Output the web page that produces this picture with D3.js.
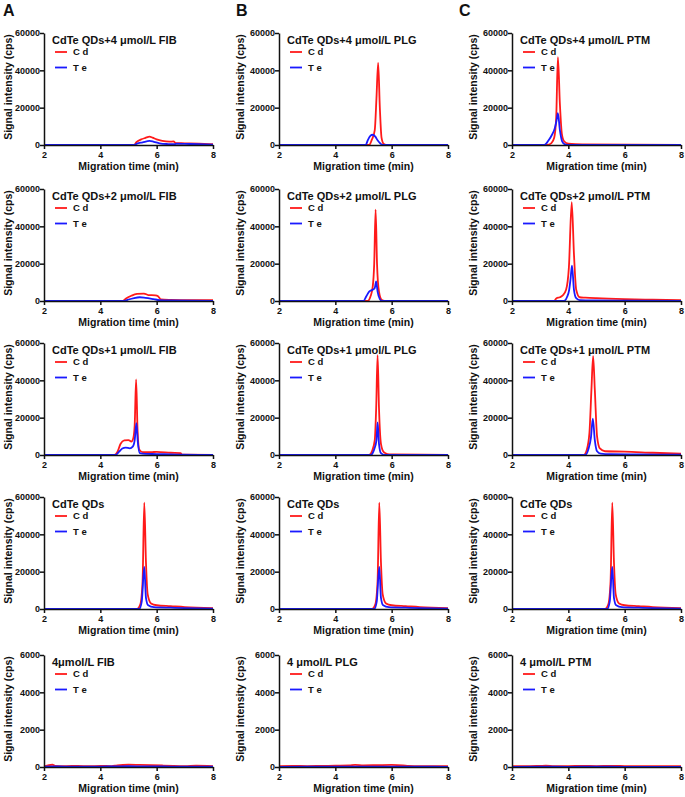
<!DOCTYPE html>
<html><head><meta charset="utf-8">
<script src="https://cdn.jsdelivr.net/npm/d3@7"></script>
<style>
body{margin:0;background:#fff;}
text{font-family:"Liberation Sans",Arial,sans-serif;font-weight:bold;fill:#111;}
</style></head>
<body><svg id="c" width="685" height="797"></svg>
<script>
// ---------- data ----------
const columnLetters = ["A", "B", "C"];
const panelTitles = [
  ["CdTe QDs+4 μmol/L FIB", "CdTe QDs+4 μmol/L PLG", "CdTe QDs+4 μmol/L PTM"],
  ["CdTe QDs+2 μmol/L FIB", "CdTe QDs+2 μmol/L PLG", "CdTe QDs+2 μmol/L PTM"],
  ["CdTe QDs+1 μmol/L FIB", "CdTe QDs+1 μmol/L PLG", "CdTe QDs+1 μmol/L PTM"],
  ["CdTe QDs", "CdTe QDs", "CdTe QDs"],
  ["4μmol/L FIB", "4 μmol/L PLG", "4 μmol/L PTM"]
];
const seriesNames = ["C d", "T e"];
const xTicks = [2, 4, 6, 8];
const yTicksMain = [0, 20000, 40000, 60000];
const yTicksBlank = [0, 2000, 4000, 6000];
const xLabel = "Migration time (min)";
const yLabel = "Signal intensity (cps)";

// [time (min), intensity (cps)]
const cdFIB4 = [[2,0],[5.2,0],[5.28,1500],[5.45,3000],[5.6,3800],[5.75,4500],[5.85,4000],[6.0,3000],[6.2,2200],[6.45,1800],[6.6,1900],[6.68,1000],[7.0,900],[7.5,700],[8,400]];
const teFIB4 = [[2,0],[5.2,0],[5.3,700],[5.5,1400],[5.75,2200],[5.9,1700],[6.1,900],[6.4,500],[6.65,400],[6.7,700],[7.0,600],[7.5,400],[8,200]];
const cdFIB2 = [[2,0],[4.8,0],[4.9,1200],[5.1,2800],[5.3,3800],[5.55,4000],[5.7,3200],[5.95,3000],[6.05,2500],[6.15,800],[6.5,600],[7.0,500],[8,400]];
const teFIB2 = [[2,0],[4.85,0],[5.0,800],[5.2,1600],[5.4,2000],[5.6,1700],[5.9,1000],[6.1,500],[6.5,300],[8,100]];
const cdFIB1 = [[2,0],[4.5,0],[4.6,1500],[4.72,6000],[4.85,7800],[5.0,8000],[5.1,7200],[5.17,9000],[5.22,16000],[5.27,40500],[5.32,14000],[5.38,3000],[5.5,1500],[5.8,1500],[6.0,1700],[6.5,1200],[6.85,1000],[6.9,200],[8,100]];
const teFIB1 = [[2,0],[4.55,0],[4.65,1500],[4.78,3500],[4.9,4000],[5.05,3600],[5.15,4500],[5.22,8000],[5.28,17000],[5.33,7000],[5.4,1000],[5.6,600],[6.0,500],[6.5,300],[8,0]];
const cdQDs = [[2,0],[5.3,0],[5.42,2500],[5.5,15000],[5.56,57000],[5.62,25000],[5.68,8000],[5.8,3000],[6.0,2000],[6.5,1500],[7.0,1000],[8,500]];
const teQDs = [[2,0],[5.38,0],[5.47,4000],[5.56,22500],[5.62,6000],[5.7,2000],[5.9,1000],[6.5,700],[7.0,500],[8,200]];
const cdFIBonly = [[2,40],[2.3,120],[2.4,60],[2.8,50],[3.2,60],[3.6,40],[4.0,60],[4.4,50],[4.6,90],[5.0,120],[5.4,110],[5.8,100],[6.2,80],[6.6,60],[7.0,50],[7.4,70],[8,50]];
const teFIBonly = [[2,20],[2.5,30],[3,20],[3.5,25],[4,20],[4.5,35],[5,40],[5.5,35],[6,30],[6.5,25],[7,20],[7.5,25],[8,20]];

const cdPLG4 = [[2,0],[5.2,0],[5.3,3000],[5.4,8000],[5.46,25000],[5.52,44000],[5.58,20000],[5.64,4000],[5.72,500],[5.8,0],[8,0]];
const tePLG4 = [[2,0],[5.08,0],[5.15,2500],[5.25,5000],[5.32,5500],[5.42,4500],[5.5,2500],[5.6,800],[5.68,0],[8,0]];
const cdPLG2 = [[2,0],[5.15,0],[5.25,2500],[5.33,8000],[5.38,20000],[5.43,49000],[5.48,20000],[5.55,5000],[5.65,500],[5.75,0],[8,0]];
const tePLG2 = [[2,0],[5.0,0],[5.1,2500],[5.2,5000],[5.32,6000],[5.4,7000],[5.45,10500],[5.5,5000],[5.58,1000],[5.65,0],[8,0]];
const cdPLG1 = [[2,0],[5.2,0],[5.3,2000],[5.4,8000],[5.45,25000],[5.5,53500],[5.55,25000],[5.62,6000],[5.72,1500],[5.85,500],[6.0,300],[8,100]];
const tePLG1 = [[2,0],[5.25,0],[5.38,3000],[5.46,8000],[5.5,17500],[5.55,6000],[5.62,1000],[5.75,0],[8,0]];
const cdPLGonly = [[2,50],[2.5,60],[3,50],[3.5,60],[4,70],[4.5,80],[4.7,110],[5,90],[5.5,100],[6,110],[6.4,90],[6.6,60],[7,50],[7.5,50],[8,40]];
const tePLGonly = [[2,10],[3,15],[4,20],[5,25],[6,20],[7,15],[8,10]];

const cdPTM4 = [[2,0],[3.25,0],[3.4,1000],[3.5,4000],[3.57,15000],[3.63,47000],[3.7,22000],[3.77,6000],[3.85,2000],[4.0,700],[4.5,300],[8,100]];
const tePTM4 = [[2,0],[3.15,0],[3.3,2500],[3.42,5500],[3.52,9000],[3.58,13000],[3.63,17000],[3.7,8000],[3.78,2000],[3.88,300],[4.0,0],[8,0]];
const cdPTM2 = [[2,0],[3.5,0],[3.58,1500],[3.7,2000],[3.8,3000],[3.92,6000],[4.02,18000],[4.12,53000],[4.2,25000],[4.28,6000],[4.4,2000],[4.6,1800],[5,1500],[6,1000],[7,700],[8,500]];
const tePTM2 = [[2,0],[3.85,0],[3.95,2000],[4.03,6000],[4.08,12000],[4.13,19000],[4.2,6000],[4.28,1500],[4.4,500],[5,300],[6,200],[8,100]];
const cdPTM1 = [[2,0],[4.55,0],[4.65,2500],[4.75,12000],[4.82,35000],[4.88,53000],[4.94,35000],[5.02,10000],[5.12,3500],[5.3,2000],[6,1800],[7,1200],[8,700]];
const tePTM1 = [[2,0],[4.6,0],[4.72,3500],[4.8,9000],[4.87,19500],[4.94,8000],[5.02,2000],[5.15,700],[5.5,400],[6.5,300],[8,200]];
const cdPTMonly = [[2,50],[2.5,40],[3,60],[3.2,70],[3.5,50],[4,50],[4.5,60],[5,50],[5.5,60],[6,50],[6.5,40],[7,50],[7.5,40],[8,40]];
const tePTMonly = [[2,10],[3,15],[4,10],[5,15],[6,10],[7,10],[8,10]];

const panelSeries = [
  [[cdFIB4, teFIB4], [cdPLG4, tePLG4], [cdPTM4, tePTM4]],
  [[cdFIB2, teFIB2], [cdPLG2, tePLG2], [cdPTM2, tePTM2]],
  [[cdFIB1, teFIB1], [cdPLG1, tePLG1], [cdPTM1, tePTM1]],
  [[cdQDs, teQDs], [cdQDs, teQDs], [cdQDs, teQDs]],
  [[cdFIBonly, teFIBonly], [cdPLGonly, tePLGonly], [cdPTMonly, tePTMonly]]
];

// ---------- layout ----------
const colColor = ["#ff1a1a", "#1a1aff"];
const colLeft = [44, 279, 512];
const colLetterX = [3, 236, 459];
const yLabelX = [8, 240, 473];
const rowTop = [33, 189, 343, 497, 655];
const plotW = 169, plotH = 112;

const svg = d3.select("#c");

columnLetters.forEach((L, c) => {
  svg.append("text").attr("x", colLetterX[c]).attr("y", 16)
    .style("font-size", "16px").text(L);
});

for (let r = 0; r < 5; r++) {
  for (let c = 0; c < 3; c++) {
    const g = svg.append("g").attr("transform", `translate(${colLeft[c]},${rowTop[r]})`);
    const yTicks = r === 4 ? yTicksBlank : yTicksMain;
    const x = d3.scaleLinear().domain([2, 8]).range([0, plotW]);
    const y = d3.scaleLinear().domain([0, yTicks[yTicks.length - 1]]).range([plotH, 0]);

    const line = d3.line().x(d => x(d[0])).y(d => y(d[1])).curve(d3.curveMonotoneX);
    panelSeries[r][c].forEach((s, i) => {
      g.append("path").datum(s).attr("d", line)
        .attr("fill", "none").attr("stroke", colColor[i]).attr("stroke-width", 1.8)
        .attr("stroke-linejoin", "round");
    });

    const xa = g.append("g").attr("transform", `translate(0,${plotH})`)
      .call(d3.axisBottom(x).tickValues(xTicks).tickFormat(d3.format("d")).tickSize(4).tickSizeOuter(0));
    const ya = g.append("g")
      .call(d3.axisLeft(y).tickValues(yTicks).tickFormat(d => String(d)).tickSize(4).tickSizeOuter(0));
    [xa, ya].forEach(a => {
      a.selectAll("path,line").attr("stroke", "#111").attr("stroke-width", 1.5);
      a.selectAll("text").style("font-size", "9px").style("font-family", "Liberation Sans, Arial, sans-serif")
        .style("font-weight", "bold").attr("fill", "#111");
    });
    xa.selectAll("text").attr("dy", "0.75em").attr("y", 6);
    ya.selectAll("text").attr("x", -4);

    g.append("text").attr("x", plotW / 2).attr("y", plotH + 25)
      .attr("text-anchor", "middle").style("font-size", "10.5px").text(xLabel);
    svg.append("text")
      .attr("transform", `translate(${yLabelX[c]},${rowTop[r] + plotH / 2 - 2}) rotate(-90)`)
      .attr("text-anchor", "middle").attr("dy", "0.35em").style("font-size", "10.5px").text(yLabel);

    g.append("text").attr("x", 8).attr("y", 11).style("font-size", "11px").text(panelTitles[r][c]);
    seriesNames.forEach((n, i) => {
      const ly = 19 + i * 15.5;
      g.append("line").attr("x1", 11).attr("x2", 23).attr("y1", ly).attr("y2", ly)
        .attr("stroke", colColor[i]).attr("stroke-width", 1.8);
      g.append("text").attr("x", 29).attr("y", ly).attr("dy", "0.35em")
        .style("font-size", "9.5px").text(n);
    });
  }
}
</script></body></html>
